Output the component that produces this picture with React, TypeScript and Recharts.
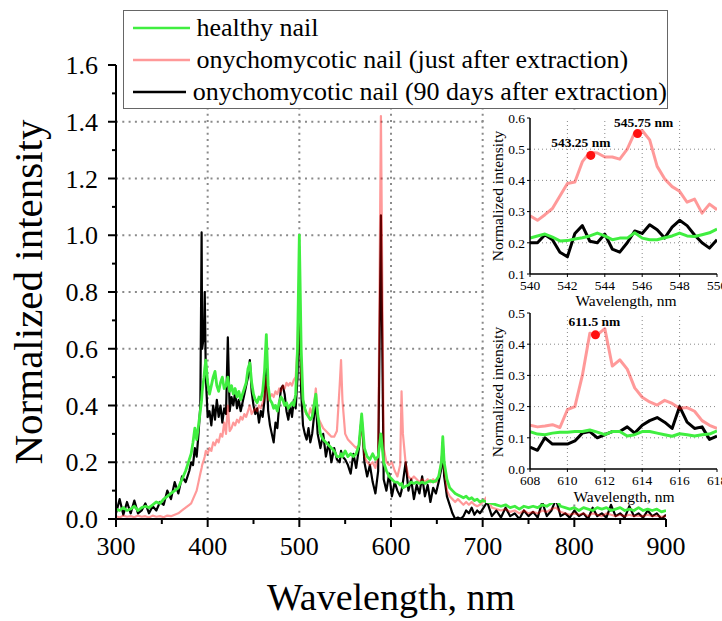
import React from 'react';
import { LineChart, Line, XAxis, YAxis, ReferenceLine, ReferenceDot, Legend } from 'recharts';

const FONT = "'Liberation Serif', Tinos, 'Times New Roman', 'DejaVu Serif', serif";
const GREEN = '#40ee40';
const RED = '#ff0000';

// ---- main spectra ----
const wavelengths = [
  300, 304, 308, 312, 316, 320, 324, 328, 332, 336, 340, 344, 348, 352, 356, 360, 364, 368, 372, 376, 380,
  382, 384, 386, 388, 390, 392, 393.4, 394, 396, 396.8, 398, 400, 402, 404, 406, 408, 410, 412, 414, 416, 418, 420,
  422, 424, 426, 428, 430, 432, 434, 436, 438, 440, 442, 444, 446, 448, 450, 452, 454, 456, 458, 460, 462, 464,
  466, 468, 470, 472, 474, 476, 478, 480, 482, 484, 486, 488, 490, 492, 494, 496, 498, 500, 502, 504, 506, 508,
  510, 512, 514, 516, 518, 520,
  523, 526, 529, 532, 535, 538, 541, 544, 545.5, 547, 550, 553, 556, 559, 562, 565, 568, 571, 574, 577, 580, 583,
  586, 589, 592, 595, 598, 601, 604, 607, 610, 611.5, 613, 616, 619, 622, 625, 628, 631, 634, 637, 640, 643, 646,
  649, 652, 655, 656.5, 658, 661, 664, 667, 670, 673, 676, 679, 682, 685, 688, 691, 694, 697, 700,
  705, 710, 715, 720, 725, 730, 735, 740, 745, 750, 755, 760, 765, 770, 775, 780, 785, 790, 795, 800,
  805, 810, 815, 820, 825, 830, 835, 840, 845, 850, 855, 860, 865, 870, 875, 880, 885, 890, 895, 900,
];

const healthyNail = [
  0.035, 0.03, 0.04, 0.03, 0.035, 0.045, 0.03, 0.04, 0.045, 0.04, 0.05, 0.06, 0.055, 0.07, 0.08, 0.09, 0.1, 0.11, 0.14, 0.17, 0.21,
  0.23, 0.27, 0.32, 0.28, 0.33, 0.38, 0.42, 0.45, 0.5, 0.53, 0.56, 0.48, 0.44, 0.47, 0.5, 0.52, 0.47, 0.45, 0.48, 0.5, 0.46, 0.47,
  0.5, 0.45, 0.47, 0.44, 0.46, 0.43, 0.45, 0.42, 0.44, 0.46, 0.48, 0.53, 0.55, 0.48, 0.44, 0.42, 0.41, 0.43, 0.42, 0.45, 0.52, 0.65,
  0.47, 0.42, 0.41, 0.39, 0.4, 0.38, 0.41, 0.43, 0.42, 0.4, 0.41, 0.39, 0.4, 0.41, 0.4, 0.44, 0.6, 1.0, 0.6, 0.42, 0.39, 0.37,
  0.36, 0.35, 0.36, 0.4, 0.44, 0.37,
  0.3, 0.28, 0.27, 0.26, 0.25, 0.24, 0.22, 0.22, 0.23, 0.22, 0.24, 0.22, 0.23, 0.22, 0.23, 0.26, 0.37, 0.25, 0.22, 0.21, 0.23, 0.21,
  0.22, 0.3, 0.2, 0.17, 0.15, 0.14, 0.13, 0.13, 0.12, 0.125, 0.11, 0.115, 0.12, 0.13, 0.125, 0.13, 0.125, 0.13, 0.125, 0.13, 0.135, 0.13,
  0.135, 0.15, 0.2, 0.29, 0.2, 0.14, 0.11, 0.1, 0.09, 0.085, 0.08, 0.075, 0.08, 0.07, 0.075, 0.065, 0.07, 0.06, 0.065,
  0.06, 0.055, 0.05, 0.045, 0.05, 0.04, 0.045, 0.035, 0.045, 0.04, 0.045, 0.04, 0.05, 0.045, 0.055, 0.07, 0.045, 0.04, 0.035, 0.04,
  0.03, 0.04, 0.035, 0.03, 0.04, 0.035, 0.04, 0.03, 0.035, 0.04, 0.03, 0.035, 0.03, 0.04, 0.03, 0.035, 0.03, 0.035, 0.025, 0.03,
];

const justAfterExtraction = [
  0.01, 0.005, 0.012, 0.008, 0.01, 0.006, 0.012, 0.008, 0.01, 0.005, 0.012, 0.008, 0.01, 0.006, 0.012, 0.01, 0.015, 0.02, 0.03, 0.04, 0.05,
  0.055, 0.07, 0.085, 0.1, 0.13, 0.16, 0.18, 0.19, 0.21, 0.22, 0.24, 0.23, 0.25, 0.24, 0.27, 0.26, 0.28, 0.27, 0.3, 0.29, 0.34, 0.3,
  0.4, 0.31, 0.32, 0.34, 0.33, 0.35, 0.34, 0.36, 0.35, 0.37, 0.36, 0.38, 0.4, 0.37, 0.38, 0.39, 0.38, 0.4, 0.39, 0.41, 0.43, 0.5,
  0.42, 0.43, 0.44, 0.43, 0.45, 0.44, 0.46, 0.45, 0.47, 0.46, 0.48, 0.47, 0.48, 0.47, 0.49, 0.5, 0.6, 0.85, 0.5, 0.42, 0.38, 0.37,
  0.36, 0.39, 0.37, 0.4, 0.46, 0.36,
  0.34, 0.32, 0.31, 0.3, 0.29, 0.29, 0.31, 0.47, 0.56, 0.42, 0.3, 0.28, 0.27, 0.26, 0.25, 0.26, 0.33, 0.22, 0.2, 0.19, 0.2, 0.18,
  0.22, 1.42, 0.25, 0.2, 0.19, 0.2, 0.17, 0.15, 0.19, 0.45, 0.3, 0.195, 0.15, 0.14, 0.15, 0.14, 0.13, 0.14, 0.13, 0.14, 0.13, 0.14,
  0.13, 0.15, 0.2, 0.26, 0.18, 0.1, 0.08, 0.07, 0.06, 0.07, 0.06, 0.05, 0.06, 0.05, 0.06, 0.05, 0.045, 0.05, 0.06,
  0.08, 0.04, 0.035, 0.03, 0.035, 0.025, 0.03, 0.02, 0.03, 0.02, 0.025, 0.02, 0.03, 0.025, 0.035, 0.04, 0.025, 0.02, 0.015, 0.02,
  0.015, 0.02, 0.01, 0.02, 0.015, 0.01, 0.02, 0.015, 0.01, 0.015, 0.01, 0.015, 0.01, 0.012, 0.01, 0.015, 0.01, 0.012, 0.008, 0.01,
];

const ninetyDaysAfter = [
  0.02, 0.07, 0.015, 0.06, 0.02, 0.065, 0.02, 0.03, 0.055, 0.02, 0.045, 0.03, 0.06, 0.05, 0.1, 0.07, 0.13, 0.09, 0.15, 0.13, 0.17,
  0.2, 0.19, 0.25, 0.22, 0.3, 0.4, 1.01, 0.6, 0.65, 0.8, 0.5, 0.36, 0.38, 0.33, 0.4, 0.35, 0.42, 0.36, 0.4, 0.34, 0.39, 0.37,
  0.64, 0.38, 0.43, 0.4, 0.45, 0.39, 0.42, 0.38, 0.41, 0.44, 0.47, 0.5, 0.56, 0.45, 0.4, 0.37, 0.39, 0.34, 0.38, 0.36, 0.42, 0.55,
  0.38, 0.33, 0.3, 0.27, 0.34, 0.32, 0.4, 0.46, 0.47, 0.44, 0.38, 0.35, 0.4, 0.36, 0.42, 0.39, 0.5, 0.78, 0.45, 0.33, 0.3, 0.28,
  0.32, 0.27, 0.3, 0.36, 0.42, 0.3,
  0.25, 0.3, 0.22, 0.27, 0.2, 0.25, 0.21, 0.2, 0.24, 0.22, 0.21, 0.19, 0.16, 0.23, 0.18, 0.25, 0.36, 0.2, 0.15, 0.19, 0.13, 0.09,
  0.17, 1.07, 0.14, 0.1, 0.16, 0.08, 0.13, 0.1, 0.08, 0.1, 0.13, 0.2, 0.1, 0.14, 0.07, 0.12, 0.09, 0.15, 0.08, 0.12, 0.06, 0.11,
  0.09, 0.13, 0.18, 0.27, 0.15, 0.08, 0.05, 0.02, 0, 0.005, 0, 0.01, 0.03, 0.02, 0.04, 0.015, 0.03, 0.02, 0.035,
  0.06, 0.01, 0.03, 0.005, 0.04, 0.01, 0.02, 0, 0.03, 0.01, 0.025, 0.005, 0.06, 0.01, 0.03, 0.07, 0.01, 0.02, 0.005, 0.03,
  0.01, 0.02, 0, 0.04, 0.01, 0.02, 0.005, 0.05, 0.01, 0.02, 0.005, 0.045, 0.01, 0.02, 0.005, 0.03, 0.01, 0.02, 0, 0.015,
];

const mainTicksX = [300, 350, 400, 450, 500, 550, 600, 650, 700, 750, 800, 850, 900];
const mainTicksY = [0, 0.1, 0.2, 0.3, 0.4, 0.5, 0.6, 0.7, 0.8, 0.9, 1.0, 1.1, 1.2, 1.3, 1.4, 1.5, 1.6];
const mainGridX = [400, 500, 600, 700, 800];
const mainGridY = [0.2, 0.4, 0.6, 0.8, 1.0, 1.2, 1.4];

// ---- inset 540-550 nm ----
const insetAWavelengths = [
  540, 540.4, 540.8, 541.2, 541.6, 542, 542.4, 542.8, 543.2, 543.6, 544, 544.4, 544.8,
  545.2, 545.6, 546, 546.4, 546.8, 547.2, 547.6, 548, 548.4, 548.8, 549.2, 549.6, 550,
];
const insetAHealthy = [
  0.215, 0.222, 0.228, 0.218, 0.206, 0.207, 0.212, 0.216, 0.222, 0.231, 0.222, 0.21, 0.215,
  0.215, 0.232, 0.215, 0.21, 0.21, 0.216, 0.222, 0.231, 0.222, 0.22, 0.226, 0.232, 0.244,
];
const insetAJustAfter = [
  0.287, 0.272, 0.29, 0.31, 0.35, 0.39, 0.395, 0.46, 0.49, 0.488, 0.475, 0.475, 0.468,
  0.5, 0.553, 0.56, 0.53, 0.445, 0.405, 0.38, 0.365, 0.33, 0.34, 0.295, 0.324, 0.306,
];
const insetA90Days = [
  0.2, 0.2, 0.226, 0.21, 0.17, 0.155, 0.23, 0.255, 0.205, 0.2, 0.228, 0.18, 0.17,
  0.2, 0.238, 0.23, 0.258, 0.242, 0.215, 0.25, 0.272, 0.255, 0.225, 0.2, 0.183, 0.21,
];
const insetATicksX = [540, 542, 544, 546, 548, 550];
const insetATicksY = [0.1, 0.2, 0.3, 0.4, 0.5, 0.6];
const insetAPeaks = [
  { nm: 543.25, value: 0.48, label: '543.25 nm', dx: -10, offset: 4 },
  { nm: 545.75, value: 0.55, label: '545.75 nm', dx: 6, offset: 2 },
];

// ---- inset 608-618 nm ----
const insetBWavelengths = [
  608, 608.4, 608.8, 609.2, 609.6, 610, 610.4, 610.8, 611.2, 611.6, 612, 612.4, 612.8,
  613.2, 613.6, 614, 614.4, 614.8, 615.2, 615.6, 616, 616.4, 616.8, 617.2, 617.6, 618,
];
const insetBHealthy = [
  0.12, 0.112, 0.11, 0.115, 0.118, 0.118, 0.12, 0.12, 0.125, 0.118, 0.11, 0.12, 0.12,
  0.106, 0.11, 0.12, 0.12, 0.115, 0.11, 0.105, 0.113, 0.11, 0.106, 0.11, 0.112, 0.122,
];
const insetBJustAfter = [
  0.14, 0.135, 0.138, 0.142, 0.133, 0.19, 0.2, 0.3, 0.435, 0.43, 0.45, 0.33, 0.35,
  0.32, 0.26, 0.23, 0.215, 0.205, 0.22, 0.21, 0.195, 0.197, 0.185, 0.155, 0.14, 0.13,
];
const insetB90Days = [
  0.07, 0.06, 0.1, 0.08, 0.08, 0.08, 0.09, 0.115, 0.12, 0.1, 0.11, 0.12, 0.12,
  0.135, 0.115, 0.14, 0.155, 0.165, 0.15, 0.13, 0.2, 0.15, 0.13, 0.135, 0.095, 0.105,
];
const insetBTicksX = [608, 610, 612, 614, 616, 618];
const insetBTicksY = [0, 0.1, 0.2, 0.3, 0.4, 0.5];
const insetBPeaks = [{ nm: 611.5, value: 0.43, label: '611.5 nm', dx: -1, offset: 4 }];

// drawing order: black first, translucent red over it, green on top
const series = [
  { key: 'old', name: 'onychomycotic nail (90 days after extraction)', color: '#000', opacity: 1, width: 2.2 },
  { key: 'fresh', name: 'onychomycotic nail (just after extraction)', color: RED, opacity: 0.4, width: 2.2 },
  { key: 'healthy', name: 'healthy nail', color: GREEN, opacity: 1, width: 2.8 },
];

const mainData = wavelengths.map((nm, i) => ({
  nm, healthy: healthyNail[i], fresh: justAfterExtraction[i], old: ninetyDaysAfter[i],
}));
const insetAData = insetAWavelengths.map((nm, i) => ({
  nm, healthy: insetAHealthy[i], fresh: insetAJustAfter[i], old: insetA90Days[i],
}));
const insetBData = insetBWavelengths.map((nm, i) => ({
  nm, healthy: insetBHealthy[i], fresh: insetBJustAfter[i], old: insetB90Days[i],
}));

// custom ticks so the minor ticks get no label
const MainYTick = (props: any) => {
  const { x, y, payload } = props;
  const axisX = x + 18;
  const major = Math.round(payload.value * 10) % 2 === 0;
  return (
    <g>
      <line x1={axisX - (major ? 8 : 4)} x2={axisX} y1={y} y2={y} stroke="#000" strokeWidth={2} />
      {major && (
        <text x={x} y={y + 9} textAnchor="end" fontSize={26} fontFamily={FONT} fill="#000">
          {payload.value.toFixed(1)}
        </text>
      )}
    </g>
  );
};

const MainXTick = (props: any) => {
  const { x, y, payload } = props;
  const axisY = y - 18;
  const major = payload.value % 100 === 0;
  return (
    <g>
      <line x1={x} x2={x} y1={axisY} y2={axisY + (major ? 8 : 5)} stroke="#000" strokeWidth={2} />
      {major && (
        <text x={x} y={axisY + 36} textAnchor="middle" fontSize={26} fontFamily={FONT} fill="#000">
          {payload.value}
        </text>
      )}
    </g>
  );
};

const renderLegend = () => (
  <div
    style={{
      width: 545, height: 99, boxSizing: 'border-box', border: '1.5px solid #666', background: '#fff',
      paddingTop: 1, paddingLeft: 8.5, fontFamily: FONT,
    }}
  >
    {[...series].reverse().map((s) => (
      <div key={s.key} style={{ display: 'flex', alignItems: 'center', height: 32 }}>
        <svg width={57} height={4}>
          <line x1={0} x2={57} y1={2} y2={2} stroke={s.color} strokeOpacity={s.opacity} strokeWidth={2.5} />
        </svg>
        <span style={{ marginLeft: 7, fontSize: 26, color: '#000', whiteSpace: 'nowrap', fontFamily: FONT }}>{s.name}</span>
      </div>
    ))}
  </div>
);

const Title = ({ text, x, y, size, rotate }: { text: string; x: number; y: number; size: number; rotate?: boolean }) => (
  <div
    style={{
      position: 'absolute', left: x, top: y, fontFamily: FONT, fontSize: size, lineHeight: 1,
      whiteSpace: 'nowrap', color: '#000',
      transform: `translate(-50%, -50%)${rotate ? ' rotate(-90deg)' : ''}`,
    }}
  >
    {text}
  </div>
);

const insetTick = { fontSize: 13.5, fill: '#000', fontFamily: FONT };

function Inset({ data, domainX, ticksX, domainY, ticksY, peaks, top, height, marginTop, marginBottom }: any) {
  const gridX = ticksX.slice(1, -1);
  const gridY = ticksY.slice(1, -1);
  return (
    <div style={{ position: 'absolute', left: 486, top, width: 236, height }}>
      <LineChart width={236} height={height} data={data} margin={{ top: marginTop, right: 5, bottom: marginBottom, left: 4 }}>
        <XAxis
          dataKey="nm" type="number" domain={domainX} ticks={ticksX} interval={0} allowDataOverflow
          height={30} tickSize={3} tickMargin={3} tick={insetTick}
          axisLine={{ stroke: '#000', strokeWidth: 1.5 }} tickLine={{ stroke: '#000' }}
        />
        <YAxis
          type="number" domain={domainY} ticks={ticksY} interval={0} allowDataOverflow width={40}
          tickSize={3} tickMargin={2} tick={insetTick} tickFormatter={(v: number) => v.toFixed(1)}
          axisLine={{ stroke: '#000', strokeWidth: 1.5 }} tickLine={{ stroke: '#000' }}
        />
        {gridX.map((v: number) => (
          <ReferenceLine key={`gx${v}`} x={v} stroke="#888" strokeDasharray="1 3" />
        ))}
        {gridY.map((v: number) => (
          <ReferenceLine key={`gy${v}`} y={v} stroke="#888" strokeDasharray="1 3" />
        ))}
        {series.map((s) => (
          <Line
            key={s.key} dataKey={s.key} type="linear" dot={false} stroke={s.color} strokeOpacity={s.opacity}
            strokeWidth={3} strokeLinejoin="round" isAnimationActive={false}
          />
        ))}
        {peaks.map((p: any) => (
          <ReferenceDot
            key={p.label} x={p.nm} y={p.value} r={4.5} fill="#ff1010" stroke="none"
            label={{ value: p.label, position: 'top', offset: p.offset, dx: p.dx, fontSize: 13.5, fontWeight: 'bold', fill: '#000', fontFamily: FONT }}
          />
        ))}
      </LineChart>
    </div>
  );
}

export default function App() {
  return (
    <div style={{ position: 'absolute', left: 0, top: 0, width: 722, height: 621, background: '#fff', overflow: 'hidden', fontFamily: FONT }}>
      <LineChart width={722} height={621} data={mainData} margin={{ top: 65, right: 56, bottom: 62, left: 56 }}>
        <XAxis
          dataKey="nm" type="number" domain={[300, 900]} ticks={mainTicksX} interval={0} allowDataOverflow
          height={40} tickSize={8} tickMargin={10} tick={<MainXTick />} tickLine={false}
          axisLine={{ stroke: '#000', strokeWidth: 2 }}
        />
        <YAxis
          type="number" domain={[0, 1.6]} ticks={mainTicksY} interval={0} allowDataOverflow width={60}
          tickSize={8} tickMargin={10} tick={<MainYTick />} tickLine={false}
          axisLine={{ stroke: '#000', strokeWidth: 2 }}
        />
        {mainGridX.map((v) => (
          <ReferenceLine key={`x${v}`} x={v} stroke="#8a8a8a" strokeWidth={2} strokeDasharray="2 4.3" />
        ))}
        {mainGridY.map((v) => (
          <ReferenceLine key={`y${v}`} y={v} stroke="#8a8a8a" strokeWidth={2} strokeDasharray="2 4.3" />
        ))}
        {series.map((s) => (
          <Line
            key={s.key} dataKey={s.key} name={s.name} type="linear" dot={false} stroke={s.color}
            strokeOpacity={s.opacity} strokeWidth={s.width} strokeLinejoin="round"
            isAnimationActive={false}
          />
        ))}
        <Legend
          layout="vertical" align="center" verticalAlign="middle" content={renderLegend}
          wrapperStyle={{ left: 123, top: 10, width: 545, height: 99 }}
        />
      </LineChart>

      <Title text="Normalized intensity" x={28} y={292} size={41} rotate />
      <Title text="Wavelength, nm" x={391} y={597} size={38} />

      <div style={{ position: 'absolute', left: 486, top: 110, width: 236, height: 393, background: '#fff' }} />
      <Inset
        data={insetAData} domainX={[540, 550]} ticksX={insetATicksX} domainY={[0.1, 0.6]} ticksY={insetATicksY}
        peaks={insetAPeaks} top={110} height={200} marginTop={8} marginBottom={6}
      />
      <Inset
        data={insetBData} domainX={[608, 618]} ticksX={insetBTicksX} domainY={[0, 0.5]} ticksY={insetBTicksY}
        peaks={insetBPeaks} top={300} height={203} marginTop={13} marginBottom={4}
      />
      <Title text="Normalized intensity" x={498} y={196} size={15.5} rotate />
      <Title text="Normalized intensity" x={498} y={392} size={15.5} rotate />
      <Title text="Wavelength, nm" x={626} y={301} size={15.5} />
      <Title text="Wavelength, nm" x={624} y={497} size={15.5} />
    </div>
  );
}
